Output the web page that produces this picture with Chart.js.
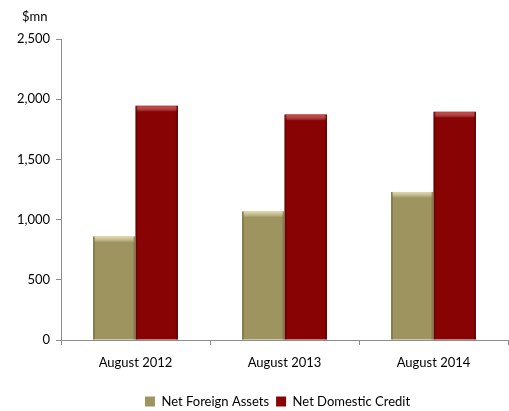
<!DOCTYPE html>
<html>
<head>
<meta charset="utf-8">
<script src="https://cdn.jsdelivr.net/npm/chart.js@4"></script>
<style>
html,body{margin:0;padding:0;background:#fff;}
#wrap{width:509px;height:411px;}
</style>
</head>
<body>
<div id="wrap"><canvas id="grafico" width="509" height="411"></canvas></div>
<script>
const periodos = ["August 2012", "August 2013", "August 2014"];
const ativosExternos = [860, 1068, 1230];
const creditoInterno = [1945, 1872, 1895];
const ticksY = [0, 500, 1000, 1500, 2000, 2500];
const unidade = "$mn";

const FONTE = "Lato, 'Liberation Sans', sans-serif";

// bevel look on each bar: light top band, darker sides
const bisel = {
  id: "bisel",
  afterDatasetsDraw(chart){
    const ctx = chart.ctx;
    const tons = [
      {topo:"rgba(235,228,170,0.85)", lado:"rgba(90,82,40,0.35)"},
      {topo:"rgba(215,70,70,0.8)", lado:"rgba(60,0,0,0.35)"}
    ];
    chart.data.datasets.forEach((ds, i) => {
      chart.getDatasetMeta(i).data.forEach(bar => {
        const w = bar.width, x0 = bar.x - w/2, y0 = bar.y, h = bar.base - bar.y;
        ctx.save();
        const g = ctx.createLinearGradient(0, y0, 0, y0 + 6);
        g.addColorStop(0, tons[i].topo);
        g.addColorStop(1, "rgba(255,255,255,0)");
        ctx.fillStyle = g;
        ctx.fillRect(x0 + 1, y0, w - 2, 6);
        ctx.fillStyle = tons[i].lado;
        ctx.fillRect(x0, y0, 2, h);
        ctx.fillRect(x0 + w - 2, y0, 2, h);
        ctx.restore();
      });
    });
  }
};

// unit label above the value axis
const rotuloUnidade = {
  id: "rotuloUnidade",
  afterDraw(chart){
    const ctx = chart.ctx;
    ctx.save();
    ctx.font = "13px " + FONTE;
    ctx.fillStyle = "#000";
    ctx.textAlign = "left";
    ctx.textBaseline = "middle";
    ctx.fillText(unidade, 22, 17);
    ctx.restore();
  }
};

// legend centred under the plot area, nudged down a little
const legendaNoPlot = {
  id: "legendaNoPlot",
  afterLayout(chart){
    const lg = chart.legend;
    if(!lg) return;
    lg.left = chart.chartArea.left - 7;
    lg.right = chart.chartArea.right - 7;
    lg.top += 7;
    lg.bottom += 7;
  }
};

new Chart(document.getElementById("grafico"), {
  type: "bar",
  data: {
    labels: periodos,
    datasets: [
      {label:"Net Foreign Assets", data:ativosExternos, backgroundColor:"#9E9460", borderWidth:0},
      {label:"Net Domestic Credit", data:creditoInterno, backgroundColor:"#880404", borderWidth:0}
    ]
  },
  options: {
    responsive: false,
    animation: false,
    layout: {padding: {top: 39, right: 1, left: 0, bottom: 0}},
    datasets: {bar: {categoryPercentage: 0.57, barPercentage: 1}},
    plugins: {
      legend: {
        position: "bottom",
        labels: {boxWidth: 10, boxHeight: 10, padding: 7, color: "#000", font: {family: FONTE, size: 13}}
      },
      tooltip: {enabled: false}
    },
    scales: {
      x: {
        grid: {drawOnChartArea: false, tickLength: 5, tickColor: "#8c8c8c", offset: true},
        border: {color: "#8c8c8c"},
        ticks: {color: "#000", padding: 10, font: {family: FONTE, size: 13}},
        afterFit(s){ s.height = 41; }
      },
      y: {
        min: 0, max: 2500,
        afterBuildTicks(s){ s.ticks = ticksY.map(v => ({value: v})); },
        grid: {drawOnChartArea: false, tickLength: 5, tickColor: "#8c8c8c"},
        border: {color: "#8c8c8c"},
        ticks: {color: "#000", padding: 6, font: {family: FONTE, size: 13},
          callback: v => v.toLocaleString("en-US")},
        afterFit(s){ s.width = 61; }
      }
    }
  },
  plugins: [bisel, rotuloUnidade, legendaNoPlot]
});
</script>
</body>
</html>
